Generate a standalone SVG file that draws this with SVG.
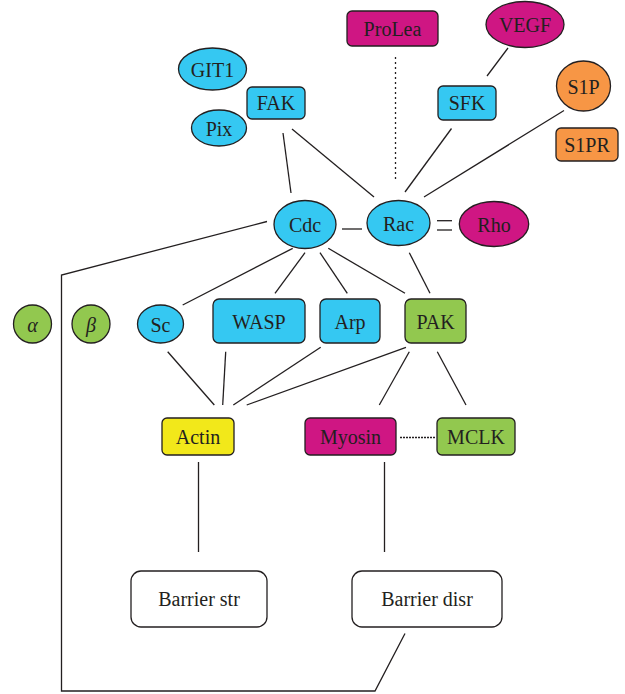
<svg xmlns="http://www.w3.org/2000/svg" width="625" height="694" viewBox="0 0 625 694">
<style>
.n{stroke:#231f20;stroke-width:1.3}
.c{fill:#35c8f2}.m{fill:#cf1683}.g{fill:#92c84f}.o{fill:#f79645}.y{fill:#f2e81a}.w{fill:#ffffff}
text{font-family:"Liberation Serif","Times New Roman",serif;font-size:20px;fill:#231f20;text-anchor:middle;dominant-baseline:central}
.e{stroke:#231f20;stroke-width:1.3;fill:none}
</style>
<rect width="625" height="694" fill="#ffffff"/>
<g id="connectors" class="e">
<line x1="395.5" y1="57" x2="395.5" y2="180" stroke-dasharray="2,3"/>
<line x1="283" y1="133" x2="291" y2="193"/>
<line x1="292" y1="129" x2="374" y2="197"/>
<line x1="508" y1="48" x2="487" y2="76"/>
<line x1="451.5" y1="128.5" x2="405" y2="192"/>
<line x1="564" y1="110.5" x2="424" y2="197"/>
<line x1="342" y1="229" x2="362" y2="229"/>
<line x1="437" y1="220.7" x2="452" y2="220.7"/>
<line x1="437" y1="230" x2="452" y2="230"/>
<polyline points="267,221.5 61.5,275 61.5,691 375,691 405,633.5"/>
<line x1="292.7" y1="248.3" x2="182.7" y2="305"/>
<line x1="305" y1="252.7" x2="275" y2="293.3"/>
<line x1="320" y1="252.7" x2="347.3" y2="293.3"/>
<line x1="328.3" y1="248.3" x2="405" y2="293.3"/>
<line x1="409.3" y1="252.7" x2="430" y2="293.3"/>
<line x1="167.7" y1="351.7" x2="214.3" y2="405"/>
<line x1="225.7" y1="351.7" x2="222.7" y2="405"/>
<line x1="320.7" y1="347.3" x2="233.3" y2="405"/>
<line x1="406" y1="347.3" x2="246.7" y2="405"/>
<line x1="409.3" y1="351.7" x2="379.3" y2="405"/>
<line x1="437.3" y1="351.7" x2="466" y2="405"/>
<line x1="400" y1="437.5" x2="435" y2="437.5" stroke-dasharray="2,1"/>
<line x1="198.5" y1="462" x2="198.5" y2="552"/>
<line x1="384.5" y1="462" x2="384.5" y2="552"/>
</g>
<g id="ProLea"><rect class="n m" x="347" y="11" width="91" height="35" rx="5"/><text x="392.5" y="29">ProLea</text></g>
<g id="VEGF"><ellipse class="n m" cx="525" cy="24.5" rx="39" ry="23"/><text x="525" y="25">VEGF</text></g>
<g id="GIT1"><ellipse class="n c" cx="212.5" cy="69" rx="34" ry="21"/><text x="212.5" y="69.5">GIT1</text></g>
<g id="FAK"><rect class="n c" x="247" y="87" width="58" height="32" rx="5"/><text x="276" y="103">FAK</text></g>
<g id="Pix"><ellipse class="n c" cx="219" cy="128" rx="27.5" ry="18"/><text x="219" y="128.5">Pix</text></g>
<g id="SFK"><rect class="n c" x="438" y="86" width="58" height="34" rx="5"/><text x="467" y="103">SFK</text></g>
<g id="S1P"><ellipse class="n o" cx="583.5" cy="86" rx="27" ry="25"/><text x="583.5" y="86.5">S1P</text></g>
<g id="S1PR"><rect class="n o" x="556" y="128" width="62" height="33" rx="5"/><text x="587" y="145">S1PR</text></g>
<g id="Cdc"><ellipse class="n c" cx="305" cy="224.5" rx="31" ry="24"/><text x="305" y="225">Cdc</text></g>
<g id="Rac"><ellipse class="n c" cx="398.5" cy="223" rx="31.5" ry="22.5"/><text x="398.5" y="223.5">Rac</text></g>
<g id="Rho"><ellipse class="n m" cx="494" cy="224" rx="34.7" ry="22.5"/><text x="494" y="224.5">Rho</text></g>
<g id="alpha"><circle class="n g" cx="32.5" cy="324" r="19"/><text x="32.5" y="324.5" font-style="italic">α</text></g>
<g id="beta"><circle class="n g" cx="91" cy="324" r="19"/><text x="91" y="324.5" font-style="italic">β</text></g>
<g id="Sc"><ellipse class="n c" cx="160.5" cy="324" rx="23" ry="19"/><text x="160.5" y="324.5">Sc</text></g>
<g id="WASP"><rect class="n c" x="213" y="299" width="92" height="44" rx="6"/><text x="259" y="321.5">WASP</text></g>
<g id="Arp"><rect class="n c" x="320" y="299" width="60" height="44" rx="6"/><text x="350" y="321.5">Arp</text></g>
<g id="PAK"><rect class="n g" x="405" y="299" width="61" height="44" rx="6"/><text x="435.5" y="321.5">PAK</text></g>
<g id="Actin"><rect class="n y" x="162" y="418" width="72" height="37" rx="5"/><text x="198" y="436.5">Actin</text></g>
<g id="Myosin"><rect class="n m" x="305" y="418" width="91" height="37" rx="5"/><text x="350.5" y="436.5">Myosin</text></g>
<g id="MCLK"><rect class="n g" x="437" y="418" width="78" height="37" rx="5"/><text x="476" y="436.5">MCLK</text></g>
<g id="BarrierStr"><rect class="n w" x="131" y="571" width="136" height="56" rx="10"/><text x="199" y="599">Barrier str</text></g>
<g id="BarrierDisr"><rect class="n w" x="352" y="571" width="150" height="56" rx="10"/><text x="427" y="599">Barrier disr</text></g>
</svg>
